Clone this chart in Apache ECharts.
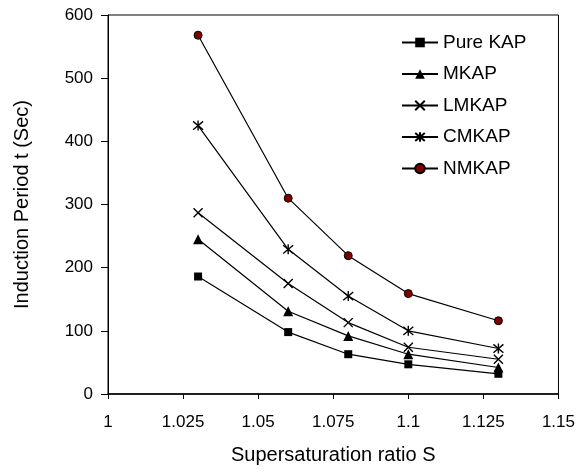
<!DOCTYPE html>
<html>
<head>
<meta charset="utf-8">
<script src="https://cdn.jsdelivr.net/npm/echarts@6/dist/echarts.min.js"></script>
<style>
html, body { margin: 0; padding: 0; background: #fff; }
#chart { width: 578px; height: 475px; }
</style>
</head>
<body>
<div id="chart"></div>
<script>
// supersaturation ratio S
var ratioS = [1.03, 1.06, 1.08, 1.1, 1.13];

// induction period t (sec)
var pureKAP = [186, 98, 63, 47, 32];
var mKAP = [245, 131, 92, 63, 42];
var lmKAP = [287, 175, 113, 74, 55];
var cmKAP = [425, 229, 155, 100, 72];
var nmKAP = [568, 310, 219, 159, 116];

var names = ['Pure KAP', 'MKAP', 'LMKAP', 'CMKAP', 'NMKAP'];

(function () {
    var chart = echarts.init(document.getElementById('chart'));

    function pairs(vals) {
        return ratioS.map(function (x, i) { return [x, vals[i]]; });
    }

    var font = 'Liberation Sans, Arial, sans-serif';
    var crossPath = 'path://M0,0L10,10M10,0L0,10';
    var starPath = 'path://M0,1L10,11M10,1L0,11M5,0L5,12';

    function line(name, vals, symbol, size, item) {
        return {
            name: name,
            type: 'line',
            data: pairs(vals),
            symbol: symbol,
            symbolSize: size,
            showAllSymbol: true,
            lineStyle: { color: '#000', width: 1.2 },
            itemStyle: item,
            emphasis: { disabled: true },
            animation: false,
            z: 3
        };
    }

    var option = {
        backgroundColor: '#fff',
        textStyle: { fontFamily: font, color: '#000' },
        grid: {
            left: 108,
            right: 19,
            top: 15,
            bottom: 81,
            show: true,
            borderColor: '#000',
            borderWidth: 1
        },
        legend: {
            orient: 'vertical',
            left: 396,
            top: 28,
            itemWidth: 36,
            itemHeight: 12,
            itemGap: 12.5,
            textStyle: { fontSize: 19, color: '#000', fontFamily: font },
            data: names
        },
        xAxis: {
            type: 'value',
            min: 1,
            max: 1.15,
            interval: 0.025,
            name: 'Supersaturation ratio S',
            nameLocation: 'middle',
            nameGap: 51,
            nameTextStyle: { fontSize: 20, color: '#000' },
            axisLine: { lineStyle: { color: '#000', width: 1.5 } },
            axisTick: { show: true, length: 5, lineStyle: { color: '#000' } },
            axisLabel: {
                fontSize: 17,
                color: '#000',
                margin: 20,
                formatter: function (v) { return String(parseFloat(v.toFixed(3))); }
            },
            splitLine: { show: false }
        },
        yAxis: {
            type: 'value',
            min: 0,
            max: 600,
            interval: 100,
            name: 'Induction Period t (Sec)',
            nameLocation: 'middle',
            nameRotate: 90,
            nameGap: 76,
            nameTextStyle: { fontSize: 20, color: '#000' },
            axisLine: { show: true, lineStyle: { color: '#000', width: 1 } },
            axisTick: { show: true, length: 7, lineStyle: { color: '#000' } },
            axisLabel: { fontSize: 17, color: '#000', margin: 15 },
            splitLine: { show: false }
        },
        series: [
            line('Pure KAP', pureKAP, 'rect', 8, { color: '#000' }),
            line('MKAP', mKAP, 'triangle', 10, { color: '#000' }),
            line('LMKAP', lmKAP, crossPath, 9, { color: 'rgba(0,0,0,0)', borderColor: '#000', borderWidth: 1.4 }),
            line('CMKAP', cmKAP, starPath, 10, { color: 'rgba(0,0,0,0)', borderColor: '#000', borderWidth: 1.4 }),
            line('NMKAP', nmKAP, 'circle', 8, { color: '#800000', borderColor: '#000', borderWidth: 1 })
        ]
    };

    chart.setOption(option);
})();
</script>
</body>
</html>
